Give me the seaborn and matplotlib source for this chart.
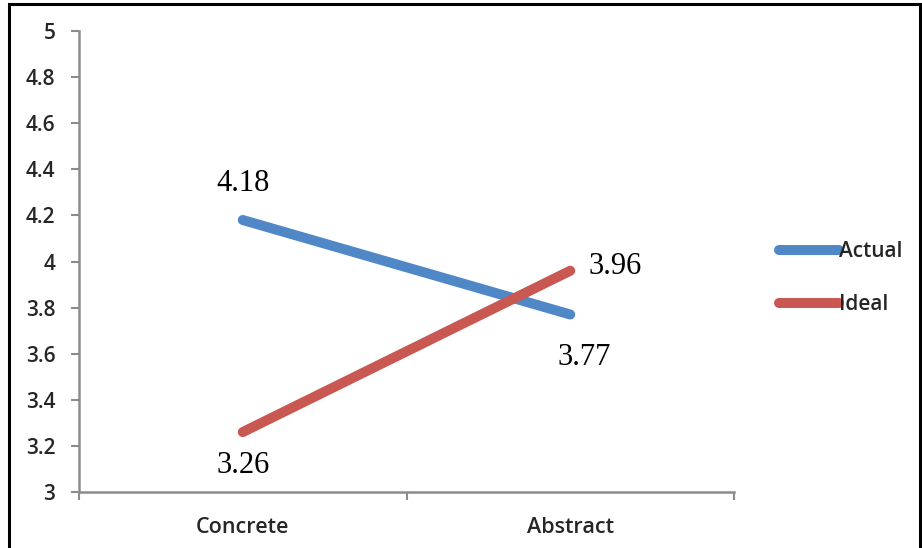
import matplotlib
matplotlib.use("Agg")
import matplotlib.pyplot as plt
import seaborn as sns
import pandas as pd
from matplotlib.patches import Rectangle
from matplotlib.lines import Line2D

categories = ["Concrete", "Abstract"]
actual = [4.18, 3.77]
ideal = [3.26, 3.96]
series_names = ["Actual", "Ideal"]
yticks = [3, 3.2, 3.4, 3.6, 3.8, 4, 4.2, 4.4, 4.6, 4.8, 5]
ytick_labels = ["3", "3.2", "3.4", "3.6", "3.8", "4", "4.2", "4.4", "4.6", "4.8", "5"]

df = pd.DataFrame({
    "category": categories * 2,
    "value": actual + ideal,
    "series": [series_names[0]] * 2 + [series_names[1]] * 2,
})

sns.set_style("white")
plt.rcParams["font.family"] = ["Open Sans", "DejaVu Sans"]

fig = plt.figure(figsize=(9.22, 5.48), dpi=100)
ax = fig.add_axes([79 / 922, 1 - 492 / 548, (734 - 79) / 922, (492 - 31) / 548])

palette = {"Actual": "#4F87C7", "Ideal": "#C95853"}
sns.lineplot(data=df, x="category", y="value", hue="series", palette=palette,
             linewidth=7.2, ax=ax, solid_capstyle="round", legend=False, sort=False)

ax.set_xlim(-0.5, 1.5)
ax.set_ylim(3, 5)
ax.set_yticks(yticks)
ax.set_yticklabels(ytick_labels)
ax.set_xticks([0, 1])
ax.set_xticklabels(categories)
ax.set_xlabel("")
ax.set_ylabel("")

for side in ["top", "right"]:
    ax.spines[side].set_visible(False)
for side in ["left", "bottom"]:
    ax.spines[side].set_color("#8C8C8C")
    ax.spines[side].set_linewidth(1.8)

ax.tick_params(axis="y", which="major", direction="out", length=6, width=1.5,
               color="#8C8C8C", labelsize=15, pad=11, left=True)
ax.tick_params(axis="x", which="major", length=0, labelsize=15.5, pad=18)
ax.set_xticks([-0.5, 0.5, 1.5], minor=True)
ax.tick_params(axis="x", which="minor", direction="out", length=6, width=1.5,
               color="#8C8C8C", bottom=True)
for lab in ax.get_yticklabels() + ax.get_xticklabels():
    lab.set_fontweight("semibold")

# data labels
label_font = dict(family=["Liberation Serif", "DejaVu Serif"], fontsize=22, color="black")
ax.annotate(f"{actual[0]:.2f}", (0, actual[0]), xytext=(0, 26), textcoords="offset points",
            ha="center", va="center", **label_font)
ax.annotate(f"{ideal[0]:.2f}", (0, ideal[0]), xytext=(0, -24), textcoords="offset points",
            ha="center", va="center", **label_font)
ax.annotate(f"{ideal[1]:.2f}", (1, ideal[1]), xytext=(32, 3), textcoords="offset points",
            ha="center", va="center", **label_font)
ax.annotate(f"{actual[1]:.2f}", (1, actual[1]), xytext=(10, -31), textcoords="offset points",
            ha="center", va="center", **label_font)

# legend
handles = [Line2D([0], [0], color=palette[s], linewidth=7.2, solid_capstyle="round") for s in series_names]
leg = fig.legend(handles, series_names, loc="center left", bbox_to_anchor=(760 / 922, 1 - 278 / 548),
                 frameon=False, handlelength=2.9, handletextpad=0.0, labelspacing=1.55,
                 prop={"family": ["Open Sans", "DejaVu Sans"], "size": 15, "weight": "semibold"})

# outer frame
fig.patches.append(Rectangle((8.5 / 922, -0.05), (920 - 8.5) / 922, 1.05 - 4 / 548,
                             transform=fig.transFigure, fill=False, edgecolor="black",
                             linewidth=2.2, clip_on=False))

fig.savefig("out.png", dpi=100)
